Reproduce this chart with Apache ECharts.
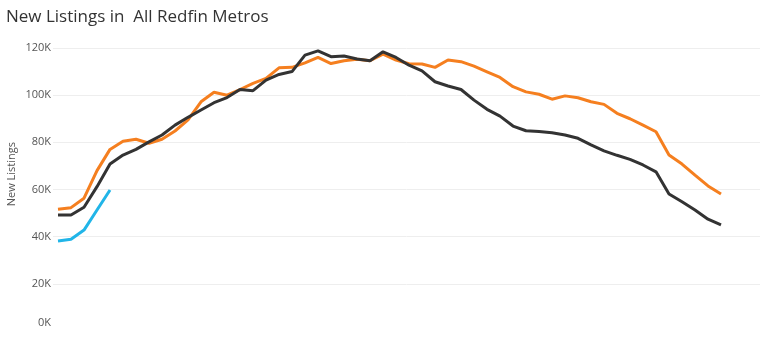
<!DOCTYPE html>
<html>
<head>
<meta charset="utf-8">
<script src="https://cdn.jsdelivr.net/npm/echarts@6/dist/echarts.min.js"></script>
<style>
html,body{margin:0;padding:0;background:#fff;}
#chart{width:768px;height:339px;}
</style>
</head>
<body>
<div id="chart"></div>
<script>
// Week index (1..52)
const weeks = Array.from({length: 52}, (_, i) => i);
// Values in thousands of new listings
const orangeValues = [51.6,52.3,56.3,68,77,80.5,81.3,79.6,81.3,84.8,89.5,97.2,101.2,100,102.4,105,107.1,111.6,111.8,113.7,116,113.4,114.6,115.2,114.6,117.4,114.9,113.3,113.2,111.8,114.9,114.2,112.3,109.9,107.5,103.6,101.4,100.4,98.3,99.7,98.9,97.2,96.1,92.3,90,87.3,84.5,74.6,70.8,66.1,61.5,58.1];
const darkValues = [49.2,49.2,52.5,61.2,70.8,74.6,77,80.2,83.1,87.3,90.6,93.7,96.8,99,102.4,101.9,106.4,108.8,110,117,118.8,116.3,116.6,115.3,114.6,118.4,116,112.7,110.3,105.7,103.9,102.4,97.9,94,91.1,86.9,84.9,84.6,84.1,83.1,81.7,78.9,76.4,74.5,72.8,70.4,67.5,58.1,54.8,51.3,47.4,45];
const blueValues = [38.2,38.9,42.8,51.3,59.8];
const yTicks = ['0K','20K','40K','60K','80K','100K','120K'];

function toPairs(vals){ return vals.map((v,i)=>[weeks[i], v*1000]); }

const chart = echarts.init(document.getElementById('chart'));
chart.setOption({
  animation: false,
  backgroundColor: '#fff',
  title: {
    text: 'New Listings in  All Redfin Metros',
    left: 1, top: 4,
    textStyle: {fontFamily: 'Open Sans', fontSize: 17, fontWeight: 'normal', color: '#333'}
  },
  graphic: [{
    type: 'text',
    left: 6, top: 142,
    rotation: Math.PI/2,
    style: {text: 'New Listings', font: '11px "Open Sans"', fill: '#555'}
  }],
  grid: {left: 53, right: 8, top: 48, bottom: 8},
  xAxis: {
    type: 'value', min: -0.385, max: 54,
    show: false
  },
  yAxis: {
    type: 'value', min: 0, max: 120000, interval: 20000,
    axisLine: {show: false}, axisTick: {show: false},
    axisLabel: {
      margin: 2, fontFamily: 'Open Sans', fontSize: 11, color: '#555',
      formatter: v => v === 0 ? '{z|' + yTicks[0] + '}' : yTicks[Math.round(v/20000)],
      rich: {z: {fontFamily: 'Open Sans', fontSize: 11, color: '#555', padding: [0, 0, 16, 0]}}
    },
    splitLine: {show: true, showMinLine: false, lineStyle: {color: '#eeeeee', width: 1}}
  },
  series: [
    {type: 'line', data: toPairs(orangeValues), symbol: 'none', lineStyle: {color: '#F57F1F', width: 3}, z: 2},
    {type: 'line', data: toPairs(darkValues), symbol: 'none', lineStyle: {color: '#333333', width: 3}, z: 3},
    {type: 'line', data: toPairs(blueValues), symbol: 'none', lineStyle: {color: '#21B5E8', width: 3}, z: 4}
  ]
});
</script>
</body>
</html>
